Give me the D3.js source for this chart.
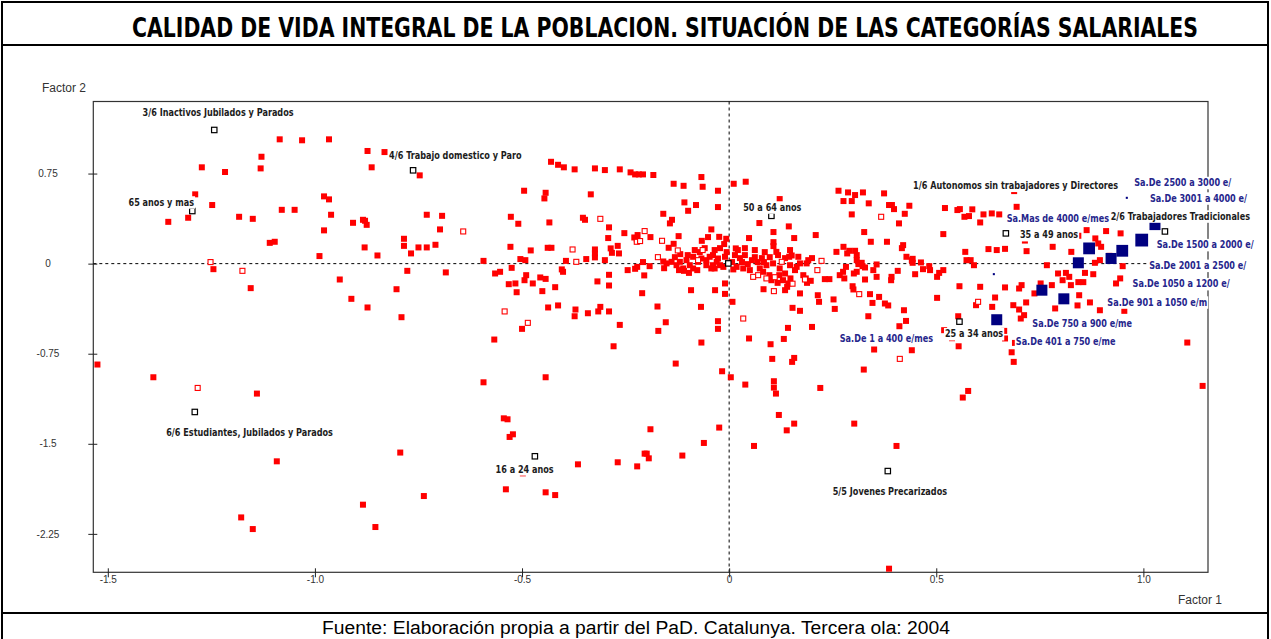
<!DOCTYPE html>
<html>
<head>
<meta charset="utf-8">
<script src="https://cdn.jsdelivr.net/npm/d3@7"></script>
<style>
  html, body { margin: 0; padding: 0; background: #fff; }
  svg { display: block; }
</style>
</head>
<body>
<svg id="chart" width="1271" height="639"></svg>
<script>
// ---------------------------------------------------------------
// Factorial map: individuals (Factor 1, Factor 2)
// ---------------------------------------------------------------

// Individuals, filled markers  [Factor 1, Factor 2]
const individuals = [
  [-1.085,1.035],[-1.031,1.027],[-0.966,1.035],[-0.873,0.938],[-0.832,0.929],[-1.129,0.89],[-1.273,0.802],[-1.217,0.763],
  [-1.131,0.793],[-0.863,0.802],[-0.747,0.735],[-1.289,0.577],[-1.248,0.488],[-0.978,0.56],[-0.966,0.535],[-1.354,0.348],
  [-1.306,0.382],[-1.183,0.39],[-1.150,0.373],[-1.080,0.448],[-1.049,0.448],[-0.961,0.407],[-0.908,0.34],[-0.884,0.365],
  [-0.879,0.357],[-0.875,0.323],[-0.978,0.277],[-0.730,0.407],[-0.693,0.398],[-0.698,0.285],[-0.785,0.207],[-0.785,0.148],
  [-0.750,0.135],[-0.730,0.135],[-0.709,0.157],[-0.768,0.085],[-1.109,0.173],[-1.097,0.182],[-0.880,0.135],[-0.849,0.068],
  [-0.989,0.063],[-1.245,-0.046],[-0.777,-0.06],[-0.684,-0.073],[-0.940,-0.132],[-1.155,-0.204],[-0.803,-0.213],[-0.912,-0.293],
  [-0.873,-0.365],[-0.791,-0.446],[-1.525,-0.84],[-1.390,-0.946],[-1.140,-1.082],[-1.092,-1.646],[-0.794,-1.573],[-0.737,-1.935],
  [-0.884,-2.007],[-0.854,-2.193],[-1.178,-2.113],[-1.150,-2.21],
  [-0.430,0.848],[-0.413,0.823],[-0.399,0.802],[-0.373,0.785],[-0.324,0.793],[-0.300,0.779],[-0.264,0.785],[-0.238,0.76],
  [-0.227,0.743],[-0.218,0.743],[-0.208,0.743],[-0.183,0.738],[-0.067,0.721],[-0.134,0.665],[-0.110,0.648],[-0.064,0.64],
  [-0.027,0.607],[-0.495,0.607],[-0.443,0.59],[-0.446,0.543],[-0.334,0.577],[-0.108,0.51],[-0.080,0.488],[-0.099,0.44],
  [-0.027,0.471],[-0.159,0.415],[-0.138,0.365],[-0.143,0.335],[-0.527,0.39],[-0.509,0.332],[-0.434,0.343],[-0.353,0.382],
  [-0.348,0.365],[-0.290,0.302],[-0.253,0.254],[-0.292,0.213],[-0.229,0.218],[-0.221,0.238],[-0.223,0.202],[-0.190,0.221],
  [-0.122,0.229],[-0.043,0.285],[-0.051,0.221],[-0.024,0.223],[-0.007,0.207],[-0.066,0.19],[-0.134,0.165],[-0.012,0.163],
  [-0.528,0.14],[-0.479,0.11],[-0.438,0.132],[-0.429,0.132],[-0.324,0.118],[-0.324,0.085],[-0.324,0.052],[-0.286,0.127],
  [-0.283,0.09],[-0.269,0.148],[-0.266,0.085],[-0.146,0.132],[-0.118,0.079],[-0.593,0.023],[-0.504,0.038],[-0.492,0.029],
  [-0.394,0.023],[-0.345,0.038],[-0.300,0.029],[-0.159,0.018],[-0.208,0.013],
  [-0.565,-0.082],[-0.553,-0.068],[-0.525,-0.035],[-0.490,-0.096],[-0.494,-0.138],[-0.532,-0.171],[-0.516,-0.165],[-0.513,-0.238],
  [-0.474,-0.165],[-0.456,-0.115],[-0.443,-0.127],[-0.451,-0.229],[-0.420,-0.196],[-0.404,-0.048],[-0.401,-0.068],[-0.437,-0.365],
  [-0.413,-0.348],[-0.371,-0.382],[-0.373,-0.438],[-0.341,-0.413],[-0.316,-0.398],[-0.311,-0.36],[-0.290,-0.398],[-0.318,-0.148],
  [-0.290,-0.093],[-0.290,-0.182],[-0.264,-0.51],[-0.245,-0.054],[-0.227,-0.043],[-0.222,-0.027],[-0.192,-0.021],[-0.205,-0.098],
  [-0.210,-0.246],[-0.157,-0.038],[-0.171,-0.56],[-0.173,-0.357],[-0.153,-0.488],[-0.092,-0.221],[-0.068,-0.36],[-0.077,-0.054],
  [-0.097,-0.077],[-0.034,-0.221],[-0.010,-0.165],[-0.010,-0.252],[-0.027,-0.479],[-0.027,-0.543],[-0.500,-0.543],[-0.567,-0.632],
  [-0.151,0.002],[-0.139,0.015],[-0.127,-0.013],[-0.119,0.015],[-0.111,-0.04],[-0.103,0.029],[-0.095,-0.013],[-0.087,0.057],
  [-0.121,-0.054],[-0.109,-0.06],[-0.087,-0.04],[-0.075,0.015],[-0.067,0.043],[-0.055,0.029],[-0.047,0.057],[-0.039,-0.013],
  [-0.030,0.015],[-0.022,-0.013],[-0.010,0.057],[-0.039,0.071],[-0.027,0.043],[-0.014,-0.027],[-0.035,-0.04],[-0.055,-0.013],
  [-0.043,-0.04],[-0.071,0.096],[-0.083,0.113],[-0.059,0.129],[-0.035,0.113],[-0.022,0.129],[-0.006,0.096],[-0.100,0.071],
  [-0.131,0.054],
  [-0.067,-0.657],[-0.279,-0.688],[-0.129,-0.832],[-0.017,-0.896],[-0.593,-0.988],[-0.443,-0.946],[-0.544,-1.288],[-0.535,-1.296],
  [-0.530,-1.443],[-0.522,-1.421],[-0.365,-1.671],[-0.269,-1.654],[-0.222,-1.688],[-0.204,-1.582],[-0.199,-1.582],[-0.194,-1.621],
  [-0.190,-1.379],[-0.113,-1.598],[-0.061,-1.493],[-0.024,-1.365],[-0.539,-1.879],[-0.443,-1.904],[-0.420,-1.927],[-0.498,-1.746],
  [0.011,0.665],[0.040,0.682],[0.122,0.5375],[0.073,0.338],[0.107,0.263],[0.144,0.31],[0.157,0.213],[0.209,0.238],
  [0.048,0.213],[0.016,0.127],[0.107,0.179],[0.107,0.146],[0.114,0.098],[0.118,0.071],[0.151,0.068],[0.167,0.057],
  [0.264,0.607],[0.287,0.593],[0.304,0.571],[0.323,0.593],[0.276,0.521],[0.296,0.521],[0.337,0.502],[0.374,0.585],
  [0.386,0.488],[0.393,0.488],[0.398,0.454],[0.435,0.482],[0.424,0.415],[0.296,0.41],[0.410,0.335],[0.326,0.263],
  [0.342,0.182],[0.381,0.182],[0.420,0.154],[0.417,0.129],[0.517,0.246],[0.521,0.463],[0.551,0.446],[0.557,0.454],
  [0.568,0.39],[0.579,0.396],[0.587,0.452],[0.614,0.41],[0.634,0.418],[0.652,0.41],[0.606,0.343],[0.259,0.098],
  [0.276,0.14],[0.285,0.085],[0.290,0.107],[0.304,0.107],[0.308,0.071],[0.428,0.057],[0.443,0.04],[0.463,0.01],
  [0.483,-0.021],[0.485,-0.054],[0.468,-0.046],[0.570,0.098],[0.573,0.029],[0.583,0.029],[0.591,-0.013],[0.626,0.121],
  [0.646,0.113],[0.308,0.029],[0.312,-0.004],[0.322,-0.021],[0.356,-0.007],[0.191,0.029],[0.171,0.002],[0.163,-0.027],
  [0.159,-0.054],[0.145,0.057],
  [0.018,-0.027],[0.010,-0.048],[0.034,-0.04],[0.050,-0.054],[0.074,-0.04],[0.082,-0.068],[0.090,-0.013],[0.106,0.002],
  [0.122,-0.04],[0.097,-0.096],[0.102,-0.138],[0.121,-0.096],[0.135,-0.082],[0.130,-0.138],[0.148,-0.123],[0.143,-0.165],
  [0.147,-0.013],[0.187,0.002],[0.179,-0.096],[0.185,-0.123],[0.197,-0.143],[0.188,-0.16],[0.282,-0.027],[0.275,-0.068],
  [0.308,-0.068],[0.301,-0.082],[0.320,0.007],[0.328,-0.032],[0.441,0.029],[0.026,0.046],[0.038,0.071],[0.055,0.029],
  [0.069,0.013],[0.014,0.071],[0.031,0.013],[0.045,-0.004],[0.062,0.054],[0.079,0.046],[0.098,0.054],[0.084,0.013],
  [0.007,0.013],[0.021,0.113],[0.062,0.113],[0.038,0.129],[0.086,0.096],[0.135,0.046],[0.147,0.113],[0.200,0.046],
  [0.008,-0.318],[0.048,-0.623],[0.100,-0.671],[0.132,-0.627],[0.142,-0.535],[0.200,-0.527],[0.153,-0.368],[0.171,-0.393],
  [0.171,-0.248],[0.214,-0.263],[0.217,-0.318],[0.252,-0.298],[0.255,-0.377],[0.083,-0.213],[0.135,-0.221],[0.140,-0.193],
  [0.117,-0.16],[0.231,-0.129],[0.242,-0.129],[0.267,-0.096],[0.278,-0.123],[0.298,-0.188],[0.300,-0.215],[0.340,-0.254],
  [0.362,-0.277],[0.346,-0.327],[0.376,-0.332],[0.384,-0.348],[0.422,-0.388],[0.427,-0.477],[0.411,-0.521],[0.336,-0.438],
  [0.328,-0.132],[0.391,-0.138],[0.449,-0.088],[0.507,-0.077],[0.502,-0.11],[0.517,-0.054],[0.556,-0.188],[0.606,-0.193],
  [0.502,-0.285],[0.596,-0.346],[0.642,-0.282],[0.553,-0.438],[0.554,-0.688],[0.350,-0.715],[0.441,-0.721],[0.004,-0.946],
  [0.104,-0.793],[0.157,-0.785],[0.152,-0.818],[0.039,-1.007],[0.108,-0.979],[0.108,-1.032],[0.113,-1.082],[0.220,-1.035],
  [0.325,-0.882],[0.120,-1.26],[0.157,-1.332],[0.139,-1.388],[0.302,-1.332],[0.060,-1.518],[0.538,-0.621],[0.519,-0.554],
  [0.664,-0.56],[0.666,-0.623],[0.682,-0.738],[0.687,-0.818],[0.690,-0.66],[1.106,-0.657],[1.143,-1.018],[0.577,-1.06],
  [0.564,-1.115],[0.404,-1.518],[0.386,-2.54],[0.356,-0.11],[0.348,-0.054],[0.392,-0.11],[0.407,-0.06],[0.443,0.007],
  [0.688,0.604],[0.694,0.473],[0.714,0.192],[0.718,0.104],[0.781,0.14],[0.826,0.098],[0.863,0.279],[0.843,0.232],
  [0.884,0.21],[0.891,0.168],[0.898,0.14],[0.910,0.271],[0.945,0.252],[0.918,0.065],[0.883,0.007],[0.895,0.029],
  [0.950,-0.021],[0.767,-0.013],[0.794,-0.082],[0.813,-0.077],[0.805,-0.138],[0.821,-0.11],[0.779,-0.179],[0.825,-0.179],
  [0.859,-0.077],[0.843,-0.154],[0.855,-0.154],[0.879,-0.088],[0.944,-0.123],[0.934,-0.165],[0.752,-0.165],[0.737,-0.248],
  [0.706,-0.179],[0.700,-0.207],[0.666,-0.198],[0.686,-0.346],[0.717,-0.323],[0.700,-0.382],[0.712,-0.429],[0.704,-0.457],
  [0.787,-0.373],[0.841,-0.348],[0.845,-0.263],[0.871,-0.323],[0.895,-0.388],[0.954,-0.393],[0.635,-0.36],[0.666,0.123]
];

// Individuals, supplementary (open markers)
const individualsSupp = [
  [-1.252,0.013],[-1.175,-0.06],[-0.642,0.268],[-1.283,-1.035],[-0.311,0.373],[-0.204,0.271],[-0.223,0.182],[-0.215,0.188],
  [-0.162,0.19],[-0.378,0.118],[-0.124,0.11],[-0.369,0.015],[-0.064,0.113],[-0.542,-0.398],[-0.486,-0.493],[-0.075,0.029],
  [-0.172,0.054],[0.367,0.39],[0.223,0.023],[0.213,-0.054],[0.127,0.015],[0.058,-0.11],[0.070,-0.096],[0.090,-0.123],
  [0.110,-0.113],[0.108,-0.229],[0.314,-0.254],[0.601,-0.318],[0.034,-0.457],[0.412,-0.793],[0.183,-0.132],[0.153,-0.167]
];

// Typology classes and age groups (category points)
const groupF1 = [-1.243, -0.763, -1.296, -1.290, -0.469, 0.383, 0.102, 0.556, 0.668, 1.052, -0.002];
const groupF2 = [1.113, 0.777, 0.438, -1.235, -1.604, -1.727, 0.398, -0.483, 0.252, 0.268, 0.002];

// Group labels and where they are written (left edge, middle)
const groupLabels = [
  "3/6 Inactivos Jubilados y Parados", "4/6 Trabajo domestico y Paro", "65 anos y mas",
  "6/6 Estudiantes, Jubilados y Parados", "16 a 24 anos", "5/5 Jovenes Precarizados",
  "50 a 64 anos", "25 a 34 anos", "35 a 49 anos", "2/6 Trabajadores Tradicionales",
  "1/6 Autonomos sin trabajadores y Directores"
];
const groupLabelF1 = [-1.416, -0.821, -1.450, -1.359, -0.564, 0.250, 0.034, 0.521, 0.702, 0.921, 0.444];
const groupLabelF2 = [1.2625, 0.907, 0.515, -1.402, -1.707, -1.89, 0.473, -0.582, 0.243, 0.398, 0.654];

// Salary brackets (active categories)
const salaryF1 = [1.028, 0.996, 0.949, 0.922, 0.869, 0.843, 0.808, 0.755, 0.646, 0.639, 0.960];
const salaryF2 = [0.325, 0.196, 0.107, 0.043, 0.127, 0.007, -0.293, -0.221, -0.467, -0.0875, 0.548];
const salaryWeight = [1.0, 1.35, 1.15, 1.0, 1.15, 1.0, 1.0, 1.0, 1.0, 0.035, 0.035];

const salaryLabels = [
  "Sa.De 2500 a 3000 e/", "Sa.De 3001 a 4000 e/", "Sa.Mas de 4000 e/mes", "Sa.De 1500 a 2000 e/",
  "Sa.De 2001 a 2500 e/", "Sa.De 1050 a 1200 e/", "Sa.De 901 a 1050 e/m", "Sa.De 750 a 900 e/me",
  "Sa.De 401 a 750 e/me", "Sa.De 1 a 400 e/mes"
];
const salaryLabelF1 = [0.978, 1.016, 0.670, 1.032, 1.014, 0.974, 0.913, 0.732, 0.692, 0.267];
const salaryLabelF2 = [0.677, 0.548, 0.377, 0.16, -0.0125, -0.165, -0.318, -0.498, -0.646, -0.623];

// Axes
const f1Domain = [-1.535, 1.156];
const f2Domain = [-2.57, 1.35];
const xTicks = [-1.5, -1.0, -0.5, 0, 0.5, 1.0];
const xTickLabels = ["-1.5", "-1.0", "-0.5", "0", "0.5", "1.0"];
const yTicks = [0.75, 0, -0.75, -1.5, -2.25];
const yTickLabels = ["0.75", "0", "-0.75", "-1.5", "-2.25"];

const titleText = "CALIDAD DE VIDA INTEGRAL DE LA POBLACION. SITUACIÓN DE LAS CATEGORÍAS SALARIALES";
const sourceText = "Fuente: Elaboración propia a partir del PaD. Catalunya. Tercera ola: 2004";

// ---------------------------------------------------------------
const NARROW = "'Liberation Sans Narrow','Arial Narrow','DejaVu Sans Condensed',sans-serif";
const SANS = "'Liberation Sans',Arial,sans-serif";
const svg = d3.select("#chart");

// Does the narrow face exist? Compare against the regular width.
function probeWidth(family) {
  const t = svg.append("text").attr("font-family", family).attr("font-size", 20)
    .attr("font-weight", "bold").text("Trabajadores Tradicionales");
  const w = t.node().getComputedTextLength();
  t.remove();
  return w;
}
const narrowRatio = probeWidth("'Liberation Sans Narrow'") / probeWidth("'Liberation Sans'");
const squeeze = narrowRatio > 0.9 ? 0.82 : 1;

function condense(sel) {
  if (squeeze === 1) return;
  sel.each(function() {
    const w = this.getComputedTextLength();
    d3.select(this).attr("textLength", w * squeeze).attr("lengthAdjust", "spacingAndGlyphs");
  });
}

// Page frame: border, title band and source band
svg.append("rect").attr("x", 2).attr("y", 2).attr("width", 1266).attr("height", 645)
  .attr("fill", "#fff").attr("stroke", "#000").attr("stroke-width", 2);
svg.append("line").attr("x1", 2).attr("x2", 1268).attr("y1", 45).attr("y2", 45)
  .attr("stroke", "#000").attr("stroke-width", 2);
svg.append("line").attr("x1", 2).attr("x2", 1268).attr("y1", 613).attr("y2", 613)
  .attr("stroke", "#000").attr("stroke-width", 2);

svg.append("text").attr("x", 665).attr("y", 36.5).attr("text-anchor", "middle")
  .attr("font-family", NARROW).attr("font-weight", "bold").attr("font-size", 27)
  .attr("fill", "#000").attr("textLength", 1066).attr("lengthAdjust", "spacingAndGlyphs")
  .text(titleText);

svg.append("text").attr("x", 636).attr("y", 634).attr("text-anchor", "middle")
  .attr("font-family", SANS).attr("font-size", 18).attr("fill", "#000")
  .attr("textLength", 628).attr("lengthAdjust", "spacingAndGlyphs")
  .text(sourceText);

// Plot scales
const x = d3.scaleLinear().domain(f1Domain).range([93.3, 1208]);
const y = d3.scaleLinear().domain(f2Domain).range([572.3, 101.5]);
const [x0, x1] = x.range();
const [y0, y1] = y.range();

// Frame of the map
svg.append("rect").attr("x", x0).attr("y", y1).attr("width", x1 - x0).attr("height", y0 - y1)
  .attr("fill", "none").attr("stroke", "#333").attr("stroke-width", 1.2);

// Origin lines
svg.append("line").attr("x1", x(0)).attr("x2", x(0)).attr("y1", y1).attr("y2", y0)
  .attr("stroke", "#000").attr("stroke-width", 1).attr("stroke-dasharray", "3,3");
svg.append("line").attr("x1", x0).attr("x2", x1).attr("y1", y(0)).attr("y2", y(0))
  .attr("stroke", "#000").attr("stroke-width", 1).attr("stroke-dasharray", "3,3");

// Axes
svg.append("g").attr("transform", `translate(0,${y0})`)
  .call(d3.axisBottom(x).tickValues(xTicks).tickFormat((d, i) => xTickLabels[i]).tickSize(5))
  .call(g => g.select(".domain").remove())
  .call(g => g.selectAll(".tick line").attr("y1", -4).attr("stroke", "#222"))
  .call(g => g.selectAll(".tick text").attr("y", 4).attr("dy", "0.71em")
    .attr("font-family", SANS).attr("font-size", 10).attr("fill", "#333"));

svg.append("g").attr("transform", `translate(${x0},0)`)
  .call(d3.axisLeft(y).tickValues(yTicks).tickFormat((d, i) => yTickLabels[i]).tickSize(5))
  .call(g => g.select(".domain").remove())
  .call(g => g.selectAll(".tick line").attr("x1", 4).attr("stroke", "#222"))
  .call(g => g.selectAll(".tick text").attr("x", 48 - x0).attr("text-anchor", "middle")
    .attr("font-family", SANS).attr("font-size", 10).attr("fill", "#333"));

svg.append("text").attr("x", 42).attr("y", 92).attr("font-family", SANS).attr("font-size", 12)
  .attr("fill", "#333").text("Factor 2");
svg.append("text").attr("x", 1222).attr("y", 604).attr("text-anchor", "end")
  .attr("font-family", SANS).attr("font-size", 12).attr("fill", "#333").text("Factor 1");

// Individuals
const FS = 6, OS = 5;
svg.append("g").selectAll("rect").data(individuals).join("rect")
  .attr("x", d => x(d[0]) - FS / 2).attr("y", d => y(d[1]) - FS / 2)
  .attr("width", FS).attr("height", FS).attr("fill", "#ff0000");

svg.append("g").selectAll("rect").data(individualsSupp).join("rect")
  .attr("x", d => x(d[0]) - OS / 2).attr("y", d => y(d[1]) - OS / 2)
  .attr("width", OS).attr("height", OS).attr("fill", "#fff")
  .attr("stroke", "#ff0000").attr("stroke-width", 1.1);

// Category points
svg.append("g").selectAll("rect").data(groupF1).join("rect")
  .attr("x", (d, i) => x(d) - 2.7).attr("y", (d, i) => y(groupF2[i]) - 2.7)
  .attr("width", 5.4).attr("height", 5.4).attr("fill", "#fff")
  .attr("stroke", "#000").attr("stroke-width", 1.2);

// Salary brackets, marker area follows the weight
const side = d3.scaleSqrt().domain([0, 1]).range([0, 11]);
svg.append("g").selectAll("rect").data(salaryF1).join("rect")
  .attr("x", (d, i) => x(d) - side(salaryWeight[i]) / 2)
  .attr("y", (d, i) => y(salaryF2[i]) - side(salaryWeight[i]) / 2)
  .attr("width", (d, i) => side(salaryWeight[i]))
  .attr("height", (d, i) => side(salaryWeight[i]))
  .attr("fill", "#000080");

// Labels on white boxes
const labelLayer = svg.append("g");
function drawLabel(txt, fx, fy, color) {
  const g = labelLayer.append("g");
  const t = g.append("text").attr("x", x(fx)).attr("y", y(fy)).attr("dy", "0.36em")
    .attr("font-family", NARROW).attr("font-weight", "bold").attr("font-size", 11)
    .attr("fill", color).text(txt);
  condense(t);
  const b = t.node().getBBox();
  g.insert("rect", "text").attr("x", b.x - 1).attr("y", b.y + 0.5)
    .attr("width", b.width + 2).attr("height", b.height - 0.5).attr("fill", "#fff");
}
groupLabels.forEach((s, i) => drawLabel(s, groupLabelF1[i], groupLabelF2[i], "#1c1c1c"));
salaryLabels.forEach((s, i) => drawLabel(s, salaryLabelF1[i], salaryLabelF2[i], "#26268c"));
</script>
</body>
</html>
